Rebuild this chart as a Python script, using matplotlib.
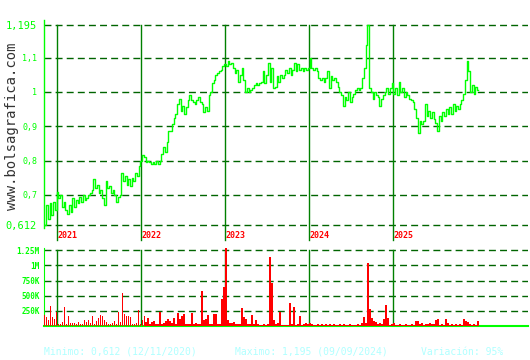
import numpy as np
import pandas as pd
import matplotlib
matplotlib.use("Agg")
import matplotlib.pyplot as plt

# precio (semanal aprox.)
price = [
    0.612, 0.67, 0.63, 0.675, 0.64, 0.68, 0.655,
    0.708, 0.69, 0.70, 0.665, 0.68,
    0.655, 0.645, 0.67, 0.65,
    0.69, 0.665, 0.685, 0.675,
    0.695, 0.68, 0.70, 0.685,
    0.69, 0.70, 0.705, 0.715,
    0.745, 0.72, 0.73, 0.705,
    0.715, 0.69, 0.67, 0.74,
    0.72, 0.725, 0.705, 0.715,
    0.70, 0.68, 0.695, 0.70,
    0.765, 0.74, 0.755, 0.73,
    0.745, 0.725, 0.75, 0.74,
    0.765, 0.755, 0.785, 0.80,
    0.815, 0.81, 0.795, 0.80,
    0.795, 0.79, 0.795, 0.79,
    0.80, 0.79, 0.80, 0.82,
    0.84, 0.825, 0.855, 0.885,
    0.885, 0.905, 0.925, 0.935,
    0.965, 0.98, 0.945, 0.96,
    0.935, 0.955, 0.975, 0.99,
    0.975, 0.97, 0.965, 0.975,
    0.985, 0.97, 0.965, 0.94,
    0.955, 0.945, 0.99, 1.0,
    1.025, 1.035, 1.05, 1.055,
    1.06, 1.065, 1.075, 1.08,
    1.075, 1.09, 1.08, 1.085,
    1.07, 1.055, 1.065, 1.03,
    1.05, 1.07, 1.035, 1.0,
    1.01, 1.0, 1.005, 1.01,
    1.02, 1.025, 1.02, 1.025,
    1.03, 1.06, 1.025, 1.05,
    1.085, 1.03, 1.07, 1.01,
    1.015, 1.045, 1.03, 1.05,
    1.04, 1.05, 1.065, 1.055,
    1.07, 1.05, 1.065, 1.085,
    1.06, 1.08, 1.065, 1.07,
    1.06, 1.07, 1.065, 1.07,
    1.10, 1.07, 1.065, 1.07,
    1.06, 1.04, 1.035, 1.04,
    1.03, 1.04, 1.06, 1.01,
    1.045, 1.035, 1.04, 1.03,
    1.015, 1.0, 0.99, 0.96,
    0.985, 0.975, 1.0, 0.97,
    0.985, 0.995, 1.005, 1.01,
    1.005, 1.01, 1.04, 1.07,
    1.136, 1.195, 1.01, 1.0,
    0.98, 1.0, 0.99, 0.985,
    0.96, 0.98, 0.99, 1.0,
    1.01, 0.995, 1.01, 1.025,
    0.995, 1.01, 0.99, 1.03,
    1.0, 1.01, 0.985, 1.0,
    0.99, 0.98, 0.975, 0.97,
    0.95, 0.925, 0.88, 0.915,
    0.905, 0.915, 0.965, 0.93,
    0.945, 0.925, 0.94, 0.92,
    0.91, 0.885, 0.93, 0.915,
    0.94, 0.93, 0.95, 0.935,
    0.955, 0.935, 0.965, 0.945,
    0.96, 0.95, 0.965, 0.975,
    0.995, 1.035, 1.09, 1.06,
    1.0, 1.02, 0.995, 1.015,
    1.005,
]

# volumen en miles de titulos
volume_k = [
    178, 150, 95, 330, 150, 120, 230, 28, 40, 65, 310, 40, 160, 50, 45, 55,
    28, 65, 30, 40, 95, 60, 95, 50, 160, 40, 80, 130, 180, 160, 95, 60,
    25, 28, 55, 80, 30, 230, 65, 550, 205, 160, 160, 150, 35, 30, 55, 260,
    40, 95, 160, 65, 140, 30, 65, 90, 28, 25, 230, 35, 55, 90, 120, 80,
    55, 130, 40, 215, 120, 160, 205, 40, 28, 30, 220, 35, 55, 35, 35, 580,
    95, 120, 180, 40, 40, 190, 190, 35, 35, 445, 645, 1300, 95, 55, 55, 65,
    28, 28, 30, 300, 150, 120, 40, 40, 180, 30, 95, 40, 10, 10, 40, 10,
    28, 1145, 705, 95, 28, 55, 235, 10, 10, 10, 10, 375, 28, 315, 10, 28,
    165, 20, 40, 55, 40, 55, 40, 20, 10, 28, 10, 40, 20, 40, 10, 35,
    10, 35, 10, 20, 28, 10, 28, 10, 20, 25, 10, 20, 10, 28, 10, 55,
    150, 55, 1045, 280, 135, 80, 65, 35, 55, 40, 110, 345, 135, 20, 40, 55,
    20, 10, 35, 20, 10, 35, 20, 10, 35, 20, 80, 80, 40, 55, 10, 35,
    40, 55, 35, 40, 95, 110, 20, 35, 20, 110, 55, 20, 35, 20, 35, 20,
    35, 20, 120, 90, 65, 35, 20, 35, 20, 80,
]

years = ["2021", "2022", "2023", "2024", "2025"]
price_ticks = [0.612, 0.7, 0.8, 0.9, 1.0, 1.1, 1.195]
price_labels = ["0,612", "0,7", "0,8", "0,9", "1", "1,1", "1,195"]
vol_ticks = [250e3, 500e3, 750e3, 1e6, 1.25e6]
vol_labels = ["250K", "500K", "750K", "1M", "1.25M"]

price_dates = pd.date_range("2020-11-12", "2026-01-05", periods=len(price))
vol_dates = pd.date_range("2020-11-07", "2026-01-05", periods=len(volume_k))
vol = np.array(volume_k) * 1000

GREEN = "#00ff00"
GRID = "#006400"
YEARLINE = "#008000"
MONO = "DejaVu Sans Mono"

fig = plt.figure(figsize=(5.3, 3.6), dpi=100)
fig.patch.set_facecolor("white")

x0, x1 = pd.Timestamp("2020-11-06"), pd.Timestamp("2026-08-10")

# ---- precio ----
ax = fig.add_axes([44 / 530, 1 - 228 / 360, 484 / 530, 208 / 360])
ax.set_xlim(x0, x1)
ax.set_ylim(0.6033, 1.2096)
for s in ["top", "right", "bottom"]:
    ax.spines[s].set_visible(False)
ax.spines["left"].set_color(GREEN)
ax.spines["left"].set_linewidth(1)

for t in price_ticks:
    ax.axhline(t, color=GRID, lw=1, ls=(0, (5, 3)), zorder=1)

for y in years:
    d = pd.Timestamp(f"{y}-01-01")
    ax.plot([d, d], [1.195, 0.568], color=YEARLINE, lw=1, clip_on=False, zorder=2)
    ax.text(d + pd.Timedelta(days=3), 0.582, y, color="red", fontsize=6,
            family=MONO, fontweight="bold", va="center", ha="left", clip_on=False)

ax.plot(price_dates, price, color=GREEN, lw=1, drawstyle="steps-mid", zorder=3)

ax.set_xticks([])
ax.set_yticks(price_ticks)
ax.set_yticklabels(price_labels)
ax.tick_params(axis="y", length=0, pad=5, colors=GREEN)
for lab in ax.get_yticklabels():
    lab.set_family(MONO)
    if lab.get_text() in ("1,195", "0,612"):
        lab.set_fontsize(7.5)
    else:
        lab.set_fontsize(6)

fig.text(12 / 530, 1 - 126 / 360, "www.bolsagrafica.com", rotation=90,
         family=MONO, fontsize=10, color="#333333", ha="center", va="center")

# ---- volumen ----
axv = fig.add_axes([44 / 530, 1 - 326 / 360, 484 / 530, 78 / 360])
axv.set_xlim(x0, x1)
axv.set_ylim(0, 1.287e6)
for s in ["top", "right"]:
    axv.spines[s].set_visible(False)
axv.spines["left"].set_color(GREEN)
axv.spines["bottom"].set_color(GREEN)
axv.spines["bottom"].set_linewidth(1.5)

for t in vol_ticks:
    axv.axhline(t, color=GRID, lw=1, ls=(0, (5, 3)), zorder=1)
for y in years:
    axv.axvline(pd.Timestamp(f"{y}-01-01"), ymax=1.25e6 / 1.287e6, color=YEARLINE, lw=1, zorder=2)

axv.bar(vol_dates, vol, width=6, color="red", zorder=3)

axv.set_xticks([])
axv.set_yticks(vol_ticks)
axv.set_yticklabels(vol_labels)
axv.tick_params(axis="y", length=0, pad=3, colors=GREEN)
for lab in axv.get_yticklabels():
    lab.set_family(MONO)
    lab.set_fontsize(5.5)
    lab.set_fontweight("bold")

# ---- pie ----
foot = "#b0ffff"
fig.text(44 / 530, 1 - 352 / 360, "Minimo: 0,612 (12/11/2020)", color=foot,
         family=MONO, fontsize=7, va="center")
fig.text(235 / 530, 1 - 352 / 360, "Maximo: 1,195 (09/09/2024)", color=foot,
         family=MONO, fontsize=7, va="center")
fig.text(421 / 530, 1 - 352 / 360, "Variación: 95%", color=foot,
         family=MONO, fontsize=7, va="center")

fig.savefig("out.png", dpi=100)
